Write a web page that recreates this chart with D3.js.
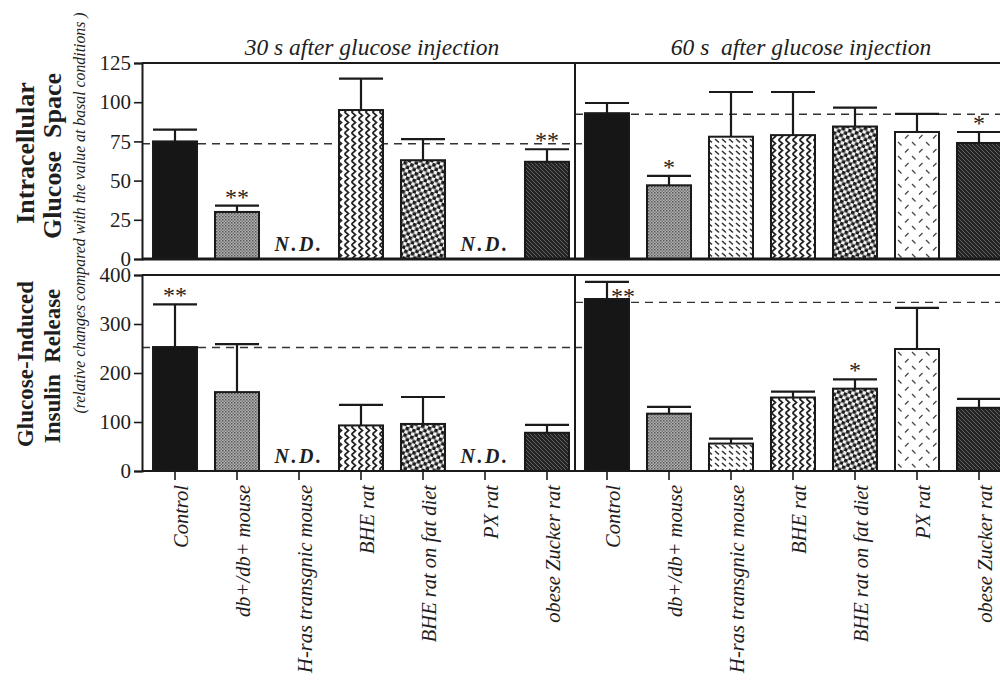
<!DOCTYPE html>
<html>
<head>
<meta charset="utf-8">
<script src="https://cdn.jsdelivr.net/npm/d3@7"></script>
<style>
  body { margin: 0; background: #fff; }
  svg { display: block; }
  text { font-family: "Liberation Serif", "Times New Roman", serif; fill: #1e1e1e; }
</style>
</head>
<body>
<svg id="chart" width="1000" height="682"></svg>
<script>
"use strict";

const categories = [
  "Control",
  "db+/db+ mouse",
  "H-ras transgnic mouse",
  "BHE rat",
  "BHE rat on fat diet",
  "PX rat",
  "obese Zucker rat"
];
const patternIds = ["solid", "stipple", "dashes", "zigzag", "blobs", "sparse", "hatch"];

// intracellular glucose space (null = N.D.)
const space30 = [75, 30, null, 95, 63, null, 62];
const space30Err = [82.5, 34, null, 115, 76.5, null, 70];
const space30Stars = ["", "**", "", "", "", "", "**"];
const space60 = [93, 47, 78, 79, 84.5, 81, 74];
const space60Err = [99.5, 53, 106.5, 106.5, 96.5, 92.5, 81];
const space60Stars = ["", "*", "", "", "", "", "*"];

// glucose-induced insulin release
const insulin30 = [253, 161, null, 93, 96, null, 78];
const insulin30Err = [340, 259, null, 135, 151, null, 94];
const insulin30Stars = ["**", "", "", "", "", "", ""];
const insulin60 = [351, 117, 56, 150, 168, 249, 129];
const insulin60Err = [386, 131, 66, 162, 187, 333, 147];
const insulin60Stars = ["**", "", "", "", "*", "", ""];

const spaceRef = [73.5, 92.3];
const insulinRef = [252, 344];
const spaceTicks = [0, 25, 50, 75, 100, 125];
const insulinTicks = [0, 100, 200, 300, 400];
const panelTitles = ["30 s after glucose injection", "60 s  after glucose injection"];

const svg = d3.select("#chart");
const ink = "#1a1a1a";

// ---- fill patterns ----
const defs = svg.append("defs");

const pat = (id, w, h) =>
  defs.append("pattern").attr("id", id).attr("patternUnits", "userSpaceOnUse")
    .attr("width", w).attr("height", h);

pat("solid", 4, 4).append("rect").attr("width", 4).attr("height", 4).attr("fill", "#161616");

let p = pat("stipple", 3, 3);
p.append("rect").attr("width", 3).attr("height", 3).attr("fill", "#b4b4b4");
p.append("rect").attr("width", 1.5).attr("height", 1.5).attr("fill", "#555");
p.append("rect").attr("x", 1.5).attr("y", 1.5).attr("width", 1.5).attr("height", 1.5).attr("fill", "#777");

p = pat("dashes", 7, 6);
p.append("rect").attr("width", 7).attr("height", 6).attr("fill", "#fff");
p.append("line").attr("x1", 1).attr("y1", 1).attr("x2", 5).attr("y2", 4.5)
  .attr("stroke", "#333").attr("stroke-width", 1.6);

p = pat("zigzag", 7, 7);
p.append("rect").attr("width", 7).attr("height", 7).attr("fill", "#fff");
p.append("path").attr("d", "M1.5,0 L5.5,3.5 L1.5,7").attr("fill", "none")
  .attr("stroke", "#222").attr("stroke-width", 1.7);

p = pat("blobs", 7, 7).attr("patternTransform", "rotate(18)");
p.append("rect").attr("width", 7).attr("height", 7).attr("fill", "#f4f4f4");
p.append("rect").attr("width", 3.6).attr("height", 3.6).attr("fill", "#1c1c1c");
p.append("rect").attr("x", 3.5).attr("y", 3.5).attr("width", 3.6).attr("height", 3.6).attr("fill", "#1c1c1c");

p = pat("sparse", 14, 14);
p.append("rect").attr("width", 14).attr("height", 14).attr("fill", "#fff");
p.append("line").attr("x1", 2).attr("y1", 2).attr("x2", 5.5).attr("y2", 5.5)
  .attr("stroke", "#444").attr("stroke-width", 1.3);
p.append("line").attr("x1", 9).attr("y1", 12.5).attr("x2", 12.5).attr("y2", 9)
  .attr("stroke", "#444").attr("stroke-width", 1.3);

p = pat("hatch", 4, 4);
p.append("rect").attr("width", 4).attr("height", 4).attr("fill", "#242424");
p.append("path").attr("d", "M0,0 L4,4 M-1,3 L1,5 M3,-1 L5,1")
  .attr("stroke", "#666").attr("stroke-width", 0.9);

// ---- scales ----
const xLeft = d3.scaleBand().domain(categories).range([144, 578])
  .paddingInner(0.29).paddingOuter(0.145);
const xRight = d3.scaleBand().domain(categories).range([576, 1010])
  .paddingInner(0.29).paddingOuter(0.145);
const ySpace = d3.scaleLinear().domain([0, 125]).range([259, 63]);
const yInsulin = d3.scaleLinear().domain([0, 400]).range([471, 275]);

const axisLeftX = 142;
const dividerX = 575;

function drawPanel(x, y, values, errs, stars, ref, x0, x1, shiftCtrlStar) {
  const g = svg.append("g");

  // reference (dashed) line, behind the bars
  g.append("line")
    .attr("x1", x0).attr("x2", x1)
    .attr("y1", y(ref)).attr("y2", y(ref))
    .attr("stroke", "#333").attr("stroke-width", 1.3)
    .attr("stroke-dasharray", "8,6");

  const rows = categories.map((c, i) => ({
    c, i, v: values[i], e: errs[i], s: stars[i]
  }));

  const shown = rows.filter((d) => d.v !== null);

  // error bars
  g.selectAll(".err").data(shown).enter().append("path")
    .attr("d", (d) => {
      const cx = x(d.c) + x.bandwidth() / 2;
      return `M${cx},${y(d.v)}V${y(d.e)}M${x(d.c)},${y(d.e)}H${x(d.c) + x.bandwidth()}`;
    })
    .attr("stroke", ink).attr("stroke-width", 2.2).attr("fill", "none");

  g.selectAll(".bar").data(shown).enter().append("rect")
    .attr("x", (d) => x(d.c))
    .attr("y", (d) => y(d.v))
    .attr("width", x.bandwidth())
    .attr("height", (d) => y(0) - y(d.v))
    .attr("fill", (d) => `url(#${patternIds[d.i]})`)
    .attr("stroke", ink).attr("stroke-width", 2);

  // significance marks
  const moved = (d) => shiftCtrlStar && d.i === 0;
  g.selectAll(".star").data(shown.filter((d) => d.s)).enter().append("text")
    .attr("x", (d) => x(d.c) + x.bandwidth() / 2 + (moved(d) ? 16 : 0))
    .attr("y", (d) => y(d.e) + (moved(d) ? 22 : -1))
    .attr("text-anchor", "middle")
    .style("font-size", "24px")
    .text((d) => d.s);

  // N.D. labels
  g.selectAll(".nd").data(rows.filter((d) => d.v === null)).enter().append("text")
    .attr("x", (d) => x(d.c) + x.bandwidth() / 2)
    .attr("y", y(0) - 8)
    .attr("text-anchor", "middle")
    .style("font-size", "20px").style("font-weight", "bold").style("font-style", "italic")
    .style("letter-spacing", "2.5px")
    .text("N.D.");
}

drawPanel(xLeft, ySpace, space30, space30Err, space30Stars, spaceRef[0], axisLeftX, 582, false);
drawPanel(xRight, ySpace, space60, space60Err, space60Stars, spaceRef[1], dividerX, 1002, false);
drawPanel(xLeft, yInsulin, insulin30, insulin30Err, insulin30Stars, insulinRef[0], axisLeftX, 582, false);
drawPanel(xRight, yInsulin, insulin60, insulin60Err, insulin60Stars, insulinRef[1], dividerX, 1002, true);

// ---- frames ----
const frame = svg.append("g").attr("stroke", ink).attr("fill", "none");
[ySpace, yInsulin].forEach((y) => {
  const [b, t] = y.range();
  frame.append("path")
    .attr("d", `M${axisLeftX},${t}H1004M${axisLeftX},${b}H1004M${dividerX},${t}V${b}`)
    .attr("stroke-width", 2);
});
frame.append("path").attr("d", `M${axisLeftX},${ySpace(0)}H1004`).attr("stroke-width", 3);

// ---- y axes ----
const yAxisSpace = svg.append("g").attr("transform", `translate(${axisLeftX},0)`)
  .call(d3.axisLeft(ySpace).tickValues(spaceTicks).tickSize(8).tickPadding(3));
const yAxisInsulin = svg.append("g").attr("transform", `translate(${axisLeftX},0)`)
  .call(d3.axisLeft(yInsulin).tickValues(insulinTicks).tickSize(8).tickPadding(3));
[yAxisSpace, yAxisInsulin].forEach((a) => {
  a.select(".domain").attr("stroke", ink).attr("stroke-width", 2);
  a.selectAll(".tick line").attr("stroke", ink).attr("stroke-width", 1.6);
  a.selectAll(".tick text").style("font-size", "21px").style("font-family", "'Liberation Serif', serif")
    .attr("fill", "#333");
});

// ---- x axes with rotated category labels ----
[xLeft, xRight].forEach((x) => {
  const a = svg.append("g").attr("transform", `translate(0,${yInsulin(0)})`)
    .call(d3.axisBottom(x).tickSize(9).tickSizeOuter(0));
  a.select(".domain").remove();
  a.selectAll(".tick line").attr("stroke", ink).attr("stroke-width", 1.6);
  a.selectAll(".tick text")
    .attr("transform", "rotate(-90)")
    .attr("x", -14).attr("y", 6).attr("dy", "0.35em")
    .attr("text-anchor", "end")
    .attr("fill", "#1e1e1e")
    .style("font-size", "20.5px").style("font-style", "italic")
    .style("font-family", "'Liberation Serif', serif");
});

// ---- titles ----
const title = (txt, x) =>
  svg.append("text").attr("x", x).attr("y", 55)
    .attr("text-anchor", "middle").style("font-size", "23.5px").style("font-style", "italic")
    .style("white-space", "pre")
    .text(txt);
title(panelTitles[0], 372);
title(panelTitles[1], 801);

// ---- left side labels ----
const sideLabel = (txt, x, y, size, bold, italic) =>
  svg.append("text")
    .attr("transform", `translate(${x},${y}) rotate(-90)`)
    .attr("text-anchor", "middle").attr("dy", "0.35em")
    .style("font-size", size + "px")
    .style("font-weight", bold ? "bold" : "normal")
    .style("font-style", italic ? "italic" : "normal")
    .style("white-space", "pre")
    .text(txt);

sideLabel("Intracellular", 25, 153, 26, true, false);
sideLabel("Glucose  Space", 52, 156, 26, true, false);
sideLabel("Glucose-Induced", 25, 364, 23, true, false);
sideLabel("Insulin  Release", 52, 366, 23, true, false);
sideLabel("(relative changes compared with the value at basal conditions )", 79, 213, 15.8, false, true);
</script>
</body>
</html>
